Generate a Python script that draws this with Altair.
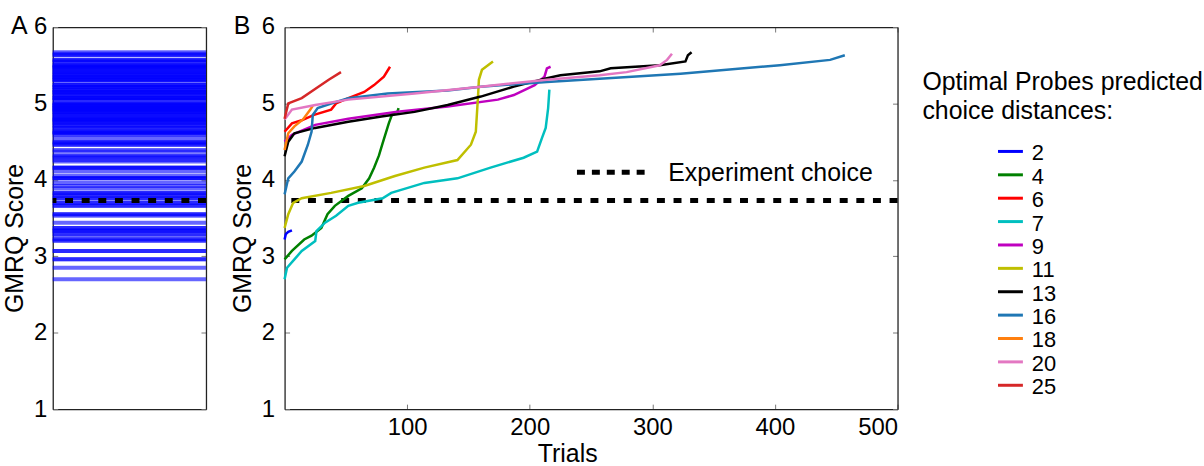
import altair as alt
import pandas as pd

FONT = "Liberation Sans"

# ---------------- data ----------------
distances = ["2", "4", "6", "7", "9", "11", "13", "16", "18", "20", "25"]
colors = ["#0000ff", "#008000", "#ff0000", "#00bfbf", "#bf00bf", "#bfbf00",
          "#000000", "#1f77b4", "#ff7f0e", "#e377c2", "#d62728"]

trials_2 = [0, 1, 3, 6]
score_2 = [3.22, 3.29, 3.32, 3.34]

trials_4 = [0, 6, 16, 22, 30, 35, 41, 52, 63, 69, 73, 77, 80, 85, 88, 92, 93]
score_4 = [2.96, 3.07, 3.22, 3.27, 3.37, 3.55, 3.66, 3.79, 3.89, 4.02, 4.16, 4.32,
           4.48, 4.74, 4.87, 4.89, 4.94]

trials_6 = [0, 6, 14, 24, 38, 42, 52, 65, 73, 81, 86]
score_6 = [4.63, 4.74, 4.78, 4.85, 4.92, 5.00, 5.07, 5.15, 5.24, 5.35, 5.48]

trials_7 = [0, 2, 8, 14, 25, 26, 33, 42, 52, 60, 80, 87, 114, 141, 168, 195, 206,
            210, 213, 215, 216]
score_7 = [2.70, 2.85, 2.96, 3.07, 3.20, 3.33, 3.44, 3.53, 3.66, 3.70, 3.76, 3.83,
           3.96, 4.02, 4.16, 4.29, 4.37, 4.55, 4.68, 4.94, 5.18]

trials_9 = [0, 6, 25, 52, 92, 133, 174, 187, 204, 212, 214, 217]
score_9 = [4.50, 4.59, 4.72, 4.80, 4.89, 4.96, 5.05, 5.11, 5.24, 5.35, 5.46, 5.48]

trials_11 = [0, 3, 7, 14, 38, 65, 90, 114, 141, 152, 156, 158, 158.5, 161, 170]
score_11 = [3.37, 3.55, 3.70, 3.76, 3.83, 3.92, 4.05, 4.16, 4.26, 4.46, 4.63, 5.15,
            5.31, 5.44, 5.55]

trials_13 = [0, 3, 8, 25, 52, 79, 106, 133, 160, 187, 214, 225, 257, 266, 306, 327,
             329, 332]
score_13 = [4.31, 4.50, 4.61, 4.68, 4.76, 4.83, 4.89, 4.98, 5.09, 5.22, 5.33, 5.37,
            5.42, 5.46, 5.50, 5.55, 5.63, 5.67]

trials_16 = [0, 3, 8, 14, 19, 22, 23, 27, 38, 52, 84, 133, 160, 214, 323, 404, 445, 457]
score_16 = [3.81, 4.02, 4.11, 4.24, 4.46, 4.63, 4.85, 4.94, 5.00, 5.07, 5.13, 5.17,
            5.22, 5.28, 5.39, 5.50, 5.57, 5.63]

trials_18 = [0, 3, 8, 15, 21, 23]
score_18 = [4.39, 4.61, 4.70, 4.79, 4.92, 4.97]

trials_20 = [0, 6, 25, 52, 106, 160, 214, 257, 279, 306, 312, 316]
score_20 = [4.79, 4.92, 4.98, 5.05, 5.13, 5.22, 5.31, 5.37, 5.41, 5.50, 5.57, 5.65]

trials_25 = [0, 3, 14, 24, 36, 46]
score_25 = [4.80, 5.00, 5.07, 5.18, 5.31, 5.41]

experiment_choice = [3.73]
experiment_label = ["Experiment choice"]
y_ticks = [1, 2, 3, 4, 5, 6]
x_ticks = [100, 200, 300, 400, 500]
x_label_values = [0, 100, 200, 300, 400, 500]
legend_title = ["Optimal Probes predicted", "choice distances:"]

series = [
    ("2", trials_2, score_2), ("4", trials_4, score_4), ("6", trials_6, score_6),
    ("7", trials_7, score_7), ("9", trials_9, score_9), ("11", trials_11, score_11),
    ("13", trials_13, score_13), ("16", trials_16, score_16),
    ("18", trials_18, score_18), ("20", trials_20, score_20),
    ("25", trials_25, score_25),
]

rows = []
for d, xs, ys in series:
    for i, (x, y) in enumerate(zip(xs, ys)):
        rows.append({"dist": d, "trial": x, "score": y, "order": i})
df = pd.DataFrame(rows)

exp_df = pd.DataFrame({"score": experiment_choice})
tick_df = pd.DataFrame({"trial": x_ticks, "score": y_ticks[:5]})
key_df = pd.DataFrame({"x": [238.5], "x2": [296], "y": [4.10],
                       "xt": [313], "yt": [3.99], "label": experiment_label})
legend_df = pd.DataFrame({"dist": distances, "idx": list(range(len(distances)))})

W_A, W_B, H = 154, 616, 384
TXT = 25

# ---------------- scales ----------------
yscale = alt.Scale(domain=[1, 6], nice=False, zero=False)
xscale = alt.Scale(domain=[0, 500], nice=False, zero=False)
cscale = alt.Scale(domain=distances, range=colors)


def frame_axis(orient, offset, values, ticks=True):
    # axis placed on the opposite edge so that its ticks point into the plot
    return alt.Axis(orient=orient, offset=offset, values=values, labels=False,
                    grid=False, ticks=ticks, tickSize=5, tickColor="#777777",
                    tickWidth=1, domain=True, domainColor="#222222",
                    domainWidth=1.3)


def y_label_axis(pad):
    return alt.Axis(values=y_ticks, title="GMRQ Score", ticks=False, tickSize=0,
                    domain=False, grid=False, labelPadding=pad, titlePadding=6,
                    titleY=212)


# ---------------- panel A ----------------
a_lines = alt.Chart(df).mark_rule(color="#0000ff", opacity=0.6, strokeWidth=4).encode(
    y=alt.Y("score:Q", scale=yscale, axis=y_label_axis(6))
)
a_exp = alt.Chart(exp_df).mark_rule(color="black", strokeWidth=5, strokeDash=[8, 8.7]).encode(
    y=alt.Y("score:Q", scale=yscale, axis=None)
)
a_t1 = alt.Chart(tick_df).mark_point(opacity=0).encode(
    x=alt.X("trial:Q", scale=xscale, title=None,
            axis=frame_axis("top", -H, x_ticks, ticks=False)),
    y=alt.Y("score:Q", scale=yscale, title=None,
            axis=frame_axis("right", -W_A, y_ticks)),
)
a_t2 = alt.Chart(tick_df).mark_point(opacity=0).encode(
    x=alt.X("trial:Q", scale=xscale, title=None,
            axis=frame_axis("bottom", -H, x_ticks, ticks=False)),
    y=alt.Y("score:Q", scale=yscale, title=None,
            axis=frame_axis("left", -W_A, y_ticks)),
)
a_letter = alt.Chart(exp_df).mark_text(
    text="A", align="left", baseline="alphabetic", fontSize=TXT, font=FONT, color="black"
).encode(x=alt.value(-42), y=alt.value(7))

panel_a = alt.layer(a_lines, a_exp, a_t1, a_t2, a_letter).resolve_axis(
    x="independent", y="independent").properties(width=W_A, height=H)

# ---------------- panel B ----------------
b_lines = alt.Chart(df).mark_line(strokeWidth=2.5).encode(
    x=alt.X("trial:Q", scale=xscale,
            axis=alt.Axis(values=x_label_values, title="Trials", ticks=False, tickSize=0,
                          domain=False, grid=False, labelFlush=True, labelPadding=6,
                          labelExpr="datum.value == 0 ? '' : datum.label",
                          titlePadding=3, titleX=284)),
    y=alt.Y("score:Q", scale=yscale, axis=y_label_axis(10)),
    color=alt.Color("dist:N", scale=cscale, legend=None),
    order=alt.Order("order:Q"),
)
b_exp = alt.Chart(exp_df).mark_rule(color="black", strokeWidth=5, strokeDash=[8, 8.7]).encode(
    y=alt.Y("score:Q", scale=yscale, axis=None)
)
b_key = alt.Chart(key_df).mark_rule(color="black", strokeWidth=5, strokeDash=[8, 7]).encode(
    x=alt.X("x:Q", scale=xscale, axis=None), x2="x2:Q",
    y=alt.Y("y:Q", scale=yscale, axis=None),
)
b_keytext = alt.Chart(key_df).mark_text(
    align="left", baseline="alphabetic", fontSize=TXT, font=FONT, color="black"
).encode(
    x=alt.X("xt:Q", scale=xscale, axis=None),
    y=alt.Y("yt:Q", scale=yscale, axis=None),
    text="label:N",
)
b_t1 = alt.Chart(tick_df).mark_point(opacity=0).encode(
    x=alt.X("trial:Q", scale=xscale, title=None, axis=frame_axis("top", -H, x_ticks)),
    y=alt.Y("score:Q", scale=yscale, title=None, axis=frame_axis("right", -W_B, y_ticks)),
)
b_t2 = alt.Chart(tick_df).mark_point(opacity=0).encode(
    x=alt.X("trial:Q", scale=xscale, title=None, axis=frame_axis("bottom", -H, x_ticks)),
    y=alt.Y("score:Q", scale=yscale, title=None, axis=frame_axis("left", -W_B, y_ticks)),
)
b_letter = alt.Chart(exp_df).mark_text(
    text="B", align="left", baseline="alphabetic", fontSize=TXT, font=FONT, color="black"
).encode(x=alt.value(-51), y=alt.value(7))

panel_b = alt.layer(b_exp, b_lines, b_key, b_keytext, b_t1, b_t2, b_letter).resolve_axis(
    x="independent", y="independent").properties(width=W_B, height=H)

# ---------------- legend panel ----------------
leg_y = alt.Y("idx:Q", scale=alt.Scale(domain=[-5.32, 11.02], reverse=True, nice=False,
                                       zero=False), axis=None)
l_sym = alt.Chart(legend_df).mark_rule(strokeWidth=3).encode(
    x=alt.value(74), x2=alt.value(99), y=leg_y,
    color=alt.Color("dist:N", scale=cscale, legend=None),
)
l_lab = alt.Chart(legend_df).mark_text(
    align="left", baseline="middle", fontSize=22, font=FONT, color="black", dy=2
).encode(x=alt.value(108), y=leg_y, text="dist:N")
l_t1 = alt.Chart(exp_df).mark_text(
    text=legend_title[0], align="left", baseline="alphabetic", fontSize=TXT, font=FONT,
    color="black").encode(x=alt.value(-2), y=alt.value(63))
l_t2 = alt.Chart(exp_df).mark_text(
    text=legend_title[1], align="left", baseline="alphabetic", fontSize=TXT, font=FONT,
    color="black").encode(x=alt.value(-2), y=alt.value(92))

panel_l = alt.layer(l_sym, l_lab, l_t1, l_t2).properties(width=270, height=H)

chart = alt.hconcat(panel_a, panel_b, panel_l, spacing=20).properties(
    padding={"left": 2, "top": 12, "right": 0, "bottom": 0},
    background="white",
).configure_view(stroke="transparent").configure_axis(
    labelFont=FONT, titleFont=FONT, labelFontSize=24, titleFontSize=TXT,
    titleFontWeight="normal", labelColor="black", titleColor="black",
)

chart.save("out.html", embed_options={"renderer": "svg", "actions": False})
